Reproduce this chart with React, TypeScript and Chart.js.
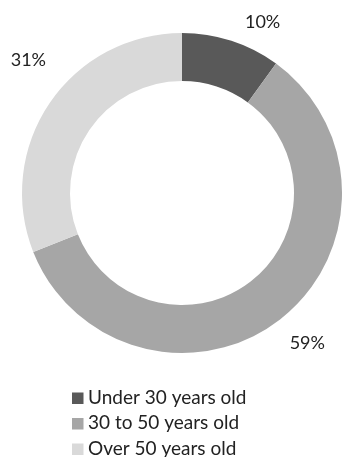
import React, { useEffect, useRef } from "react";
import { Chart, registerables } from "chart.js";

Chart.register(...registerables);

const categories = ["Under 30 years old", "30 to 50 years old", "Over 50 years old"];
const values = [10, 59, 31];
const labelTexts = ["10%", "59%", "31%"];
const colors = ["#595959", "#a6a6a6", "#d9d9d9"];
// per-label nudges (px) applied after radial placement
const labelNudges = [
  [21, 13],
  [7, -2],
  [6, -24],
];

const TEXT_COLOR = "#222222";
const FONT = "Lato, 'Open Sans', sans-serif";

const labelPlugin = {
  id: "outLabels",
  afterDatasetsDraw(chart: any) {
    const ctx = chart.ctx;
    const meta = chart.getDatasetMeta(0);
    ctx.save();
    ctx.font = `18px ${FONT}`;
    ctx.fillStyle = TEXT_COLOR;
    ctx.textAlign = "center";
    ctx.textBaseline = "middle";
    meta.data.forEach((arc: any, i: number) => {
      const { x, y, startAngle, endAngle, outerRadius } = arc.getProps(
        ["x", "y", "startAngle", "endAngle", "outerRadius"],
        true
      );
      const mid = (startAngle + endAngle) / 2;
      const r = outerRadius + 33;
      const lx = x + Math.cos(mid) * r + labelNudges[i][0];
      const ly = y + Math.sin(mid) * r + labelNudges[i][1];
      ctx.fillText(labelTexts[i], lx, ly);
    });
    ctx.restore();
  },
};

const legendPlugin = {
  id: "customLegend",
  afterDraw(chart: any) {
    const ctx = chart.ctx;
    const ds = chart.data.datasets[0];
    ctx.save();
    ctx.font = `19px ${FONT}`;
    ctx.textAlign = "left";
    ctx.textBaseline = "alphabetic";
    const x0 = 72;
    const baseline0 = 403.5;
    const step = 25.5;
    (chart.data.labels as string[]).forEach((lab, i) => {
      const by = baseline0 + i * step;
      ctx.fillStyle = ds.backgroundColor[i];
      ctx.fillRect(x0, by - 11, 11.5, 11.5);
      ctx.fillStyle = TEXT_COLOR;
      ctx.fillText(lab, x0 + 16, by);
    });
    ctx.restore();
  },
};

export default function App() {
  const ref = useRef<HTMLCanvasElement | null>(null);
  useEffect(() => {
    if (!ref.current) return;
    const chart = new Chart(ref.current, {
      type: "doughnut",
      data: {
        labels: categories,
        datasets: [
          {
            data: values,
            backgroundColor: colors,
            borderWidth: 0,
          },
        ],
      },
      options: {
        responsive: false,
        animation: false,
        cutout: "70%",
        layout: { padding: { left: 22, right: -4, top: 31, bottom: 102 } },
        plugins: {
          legend: { display: false },
          tooltip: { enabled: false },
        },
      },
      plugins: [labelPlugin, legendPlugin],
    });
    return () => chart.destroy();
  }, []);
  return (
    <div style={{ position: "absolute", left: 0, top: 0, width: 342, height: 457, background: "#fff" }}>
      <canvas ref={ref} width={342} height={457} style={{ display: "block" }} />
    </div>
  );
}
